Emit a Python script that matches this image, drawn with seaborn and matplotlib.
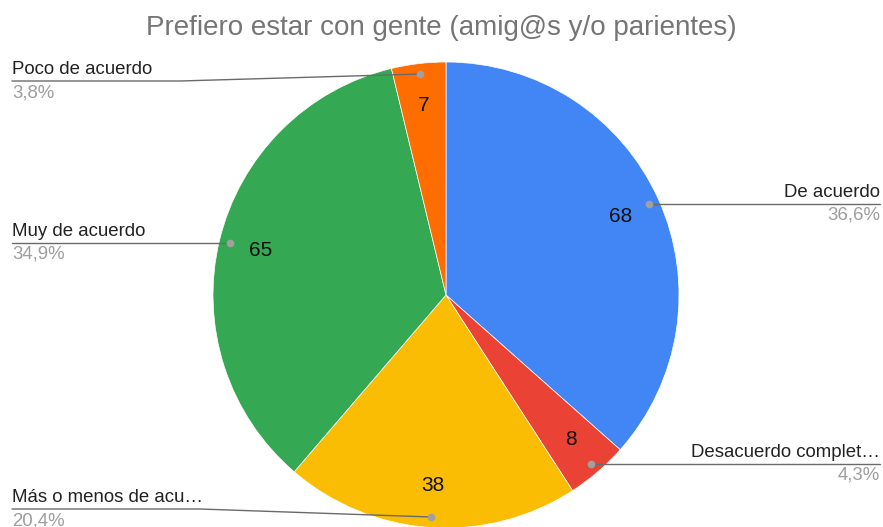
import matplotlib
matplotlib.use("Agg")
import matplotlib.pyplot as plt
import numpy as np
import seaborn as sns

# Survey answers, in the order the slices are drawn (clockwise from the top)
categories = ["De acuerdo", "Desacuerdo completamente", "Más o menos de acuerdo",
              "Muy de acuerdo", "Poco de acuerdo"]
short_labels = ["De acuerdo", "Desacuerdo complet…", "Más o menos de acu…",
                "Muy de acuerdo", "Poco de acuerdo"]
counts = [68, 8, 38, 65, 7]
slice_colors = ["#4285F4", "#EA4335", "#FBBC04", "#34A853", "#FF6D01"]
title = "Prefiero estar con gente (amig@s y/o parientes)"

sns.set_theme(style="white")
plt.rcParams["font.family"] = ["Liberation Sans", "DejaVu Sans"]

W, H = 883, 527
fig = plt.figure(figsize=(W / 100, H / 100), dpi=100)
ax = fig.add_axes([0, 0, 1, 1])

palette = sns.color_palette(slice_colors)
total = sum(counts)
cx, cy, R = 446, H - 295, 233

wedges, _, autotexts = ax.pie(
    counts, colors=palette, startangle=90, counterclock=False,
    center=(cx, cy), radius=R, frame=True,
    autopct=lambda p: f"{int(round(p * total / 100))}", pctdistance=0.82,
    wedgeprops=dict(linewidth=0.5, edgecolor="white"),
    textprops=dict(fontsize=15, color="#111111"),
)
ax.set_xlim(0, W)
ax.set_ylim(0, H)
ax.set_aspect("equal")
ax.axis("off")

ax.text(W / 2, H - 28, title, ha="center", va="center", fontsize=20, color="#757575")

# Leader line layout: (side, label line y in px from top, bend x)
layout = {
    "De acuerdo": ("right", None, None),
    "Desacuerdo completamente": ("right", None, None),
    "Más o menos de acuerdo": ("left", 509, 200),
    "Muy de acuerdo": ("left", None, None),
    "Poco de acuerdo": ("left", 81, 180),
}

line_col = "#6a6a6a"
for w, cat, short, n in zip(wedges, categories, short_labels, counts):
    mid = np.deg2rad((w.theta1 + w.theta2) / 2)
    dx, dy = cx + 0.955 * R * np.cos(mid), cy + 0.955 * R * np.sin(mid)
    side, ly, bend = layout[cat]
    ly = dy if ly is None else H - ly
    pct = f"{100 * n / total:.1f}%".replace(".", ",")
    ax.plot([dx], [dy], "o", ms=4.5, color="#a0a0a0", zorder=5)
    if side == "right":
        ax.plot([dx, 880], [dy, ly], color=line_col, lw=1, zorder=4)
        ax.text(880, ly + 3, short, ha="right", va="bottom", fontsize=13.4, color="#222222")
        ax.text(880, ly - 3, pct, ha="right", va="top", fontsize=13.4, color="#9e9e9e")
    else:
        if bend is None:
            xs, ys = [12, dx], [ly, dy]
        else:
            xs, ys = [12, bend, dx], [ly, ly, dy]
        ax.plot(xs, ys, color=line_col, lw=1, zorder=4)
        ax.text(12, ly + 3, short, ha="left", va="bottom", fontsize=13.4, color="#222222")
        ax.text(12, ly - 3, pct, ha="left", va="top", fontsize=13.4, color="#9e9e9e")

fig.savefig("out.png", dpi=100)
